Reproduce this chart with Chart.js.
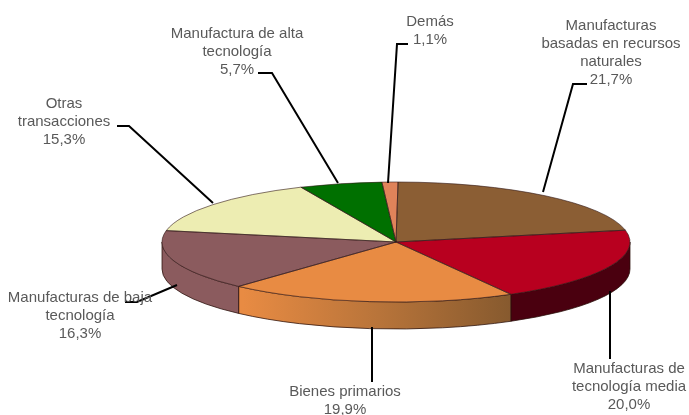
<!DOCTYPE html>
<html>
<head>
<meta charset="utf-8">
<style>
  html, body { margin: 0; padding: 0; background: #fff; }
  #wrap { width: 689px; height: 415px; }
</style>
<script src="https://cdn.jsdelivr.net/npm/chart.js@4"></script>
</head>
<body>
<div id="wrap"><canvas id="chart" width="689" height="415"></canvas></div>
<script>
const categories = [
  "Manufacturas basadas en recursos naturales",
  "Manufacturas de tecnología media",
  "Bienes primarios",
  "Manufacturas de baja tecnología",
  "Otras transacciones",
  "Manufactura de alta tecnología",
  "Demás",
];
const shares = [21.7, 20.0, 19.9, 16.3, 15.3, 5.7, 1.1];
const sliceColors = ["#8b5e34", "#b8001f", "#e88b43", "#8b5b5e", "#ededb2", "#007000", "#e0835a"];
const wallColors = ["#5c3c1c", "#4a000f", "#e08a45", "#8b5b5e", "#b5b57f", "#004a00", "#a05a3c"];

// callouts: text lines, centre x, middle y of first line, leader polyline
const callouts = [
  { lines: ["Manufacturas", "basadas en recursos", "naturales", "21,7%"], x: 611, y: 26, lead: [[543, 192], [573, 84], [587, 84]] },
  { lines: ["Manufacturas de", "tecnología media", "20,0%"], x: 629, y: 369, lead: [[610, 291], [610, 359]] },
  { lines: ["Bienes primarios", "19,9%"], x: 345, y: 392, lead: [[372, 327], [372, 382]] },
  { lines: ["Manufacturas de baja", "tecnología", "16,3%"], x: 80, y: 298, lead: [[177, 285], [137, 302], [125, 302]] },
  { lines: ["Otras", "transacciones", "15,3%"], x: 64, y: 104, lead: [[117, 126], [129, 126], [213, 203]] },
  { lines: ["Manufactura de alta", "tecnología", "5,7%"], x: 237, y: 34, lead: [[258, 73], [272, 73], [338, 183]] },
  { lines: ["Demás", "1,1%"], x: 430, y: 22, lead: [[408, 44], [397, 44], [388, 183]] },
];

const CX = 396, CY = 242, RX = 234, RY = 60, DEPTH = 27;

const pie3d = {
  id: "pie3d",
  beforeDatasetsDraw(chart) {
    const ctx = chart.ctx;
    const arcs = chart.getDatasetMeta(0).data;
    // side wall, only the part facing the viewer (0..PI on the canvas)
    arcs.forEach((arc, i) => {
      const a0 = Math.max(arc.startAngle, 0);
      const a1 = Math.min(arc.endAngle, Math.PI);
      if (a1 <= a0) return;
      ctx.beginPath();
      ctx.ellipse(CX, CY, RX, RY, 0, a0, a1);
      ctx.ellipse(CX, CY + DEPTH, RX, RY, 0, a1, a0, true);
      ctx.closePath();
      if (i === 2) {
        const g = ctx.createLinearGradient(243, 0, 515, 0);
        g.addColorStop(0, "#e88b43");
        g.addColorStop(0.5, "#b8743a");
        g.addColorStop(1, "#85592e");
        ctx.fillStyle = g;
      } else {
        ctx.fillStyle = wallColors[i];
      }
      ctx.fill();
      ctx.strokeStyle = "rgba(40,15,10,0.75)";
      ctx.lineWidth = 1;
      ctx.stroke();
    });
    // squash the flat pie into the tilted top face
    const first = arcs[0];
    ctx.save();
    ctx.translate(CX, CY);
    ctx.scale(RX / first.outerRadius, RY / first.outerRadius);
    ctx.translate(-first.x, -first.y);
  },
  afterDatasetsDraw(chart) {
    const ctx = chart.ctx;
    ctx.restore();
    const arcs = chart.getDatasetMeta(0).data;
    ctx.strokeStyle = "rgba(50,25,25,0.6)";
    ctx.lineWidth = 1;
    arcs.forEach((arc) => {
      ctx.beginPath();
      ctx.moveTo(CX, CY);
      ctx.ellipse(CX, CY, RX, RY, 0, arc.startAngle, arc.endAngle);
      ctx.closePath();
      ctx.stroke();
    });
  },
  afterDraw(chart) {
    const ctx = chart.ctx;
    ctx.strokeStyle = "#000";
    ctx.lineWidth = 2;
    ctx.font = "15px 'Liberation Sans', Arial, sans-serif";
    ctx.textAlign = "center";
    ctx.textBaseline = "middle";
    callouts.forEach((c) => {
      ctx.beginPath();
      c.lead.forEach((p, i) => (i ? ctx.lineTo(p[0], p[1]) : ctx.moveTo(p[0], p[1])));
      ctx.stroke();
    });
    ctx.fillStyle = "#595959";
    callouts.forEach((c) => {
      c.lines.forEach((line, i) => ctx.fillText(line, c.x, c.y + i * 18));
    });
  },
};

new Chart(document.getElementById("chart"), {
  type: "pie",
  data: {
    labels: categories,
    datasets: [{ data: shares, backgroundColor: sliceColors, borderWidth: 0 }],
  },
  options: {
    responsive: false,
    animation: false,
    rotation: 0.5,
    plugins: { legend: { display: false }, tooltip: { enabled: false } },
  },
  plugins: [pie3d],
});
</script>
</body>
</html>
